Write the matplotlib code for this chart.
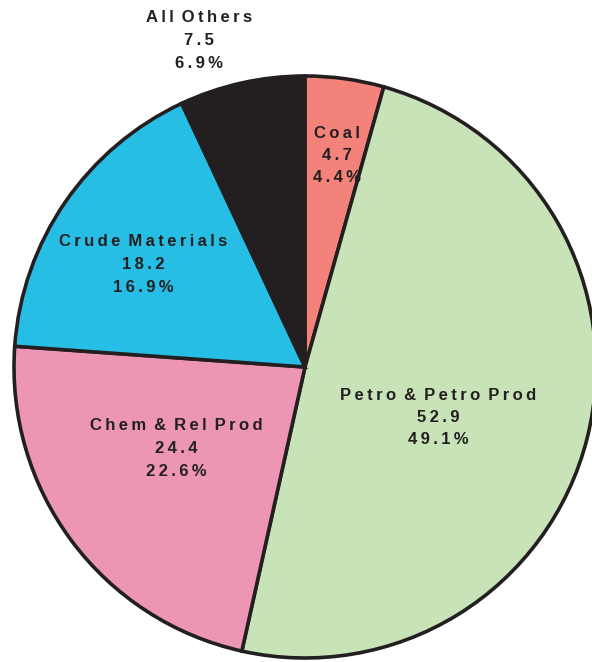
import matplotlib
matplotlib.use("Agg")
import matplotlib.pyplot as plt

categories = ["Coal", "Petro & Petro Prod", "Chem & Rel Prod", "Crude Materials", "All Others"]
values = [4.7, 52.9, 24.4, 18.2, 7.5]
percents = [4.4, 49.1, 22.6, 16.9, 6.9]
colors = ["#F3837A", "#C9E3B9", "#EC96B4", "#27BEE6", "#231F20"]

# top line of each label block (pixels, origin bottom-left)
label_xy = [(337, 529), (438, 267), (176, 236), (143, 420), (199, 644)]

TS = "\u2009"


def spaced(s):
    # letter-spaced text: thin space between letters, one extra per word gap
    return (" " + TS).join(TS.join(w) for w in s.split(" "))


fig = plt.figure(figsize=(5.92, 6.62), dpi=100)
ax = fig.add_axes([0, 0, 1, 1])

ax.pie(values, colors=colors, startangle=90, counterclock=False,
       center=(305, 295), radius=291,
       wedgeprops=dict(edgecolor="#231F20", linewidth=2.6))

ax.set_xlim(0, 592)
ax.set_ylim(0, 662)
ax.set_aspect("equal")
ax.axis("off")

for name, v, pct, (x, y) in zip(categories, values, percents, label_xy):
    lines = [name, f"{v:.1f}", f"{pct:.1f}%"]
    for i, line in enumerate(lines):
        ax.text(x, y - i * 22.5, spaced(line), ha="center", va="center",
                fontsize=12, fontweight="bold", color="#231F20",
                family=["Liberation Sans", "DejaVu Sans"])

fig.savefig("out.png", dpi=100)
